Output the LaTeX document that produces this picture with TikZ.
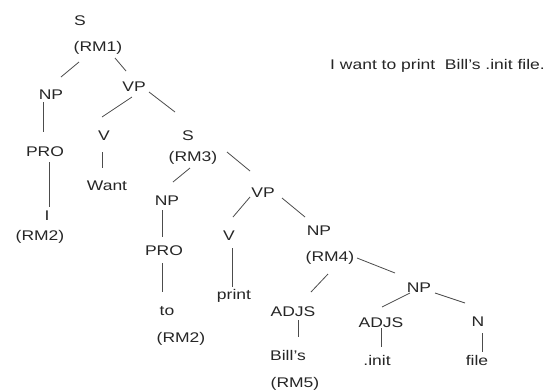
\documentclass[tikz,border=0pt]{standalone}
\usepackage{fontspec}
\setmainfont{Liberation Sans}[FakeStretch=1.25]
\usetikzlibrary{calc}
\definecolor{ink}{gray}{0.15}
\definecolor{edge}{gray}{0.3}
\tikzset{
  lbl/.style={anchor=base, inner sep=0pt, text=ink, font=\fontsize{14}{16}\selectfont},
  branch/.style={draw=edge, line width=0.8pt},
}
\begin{document}
\begin{tikzpicture}[x=1pt, y=-1pt]
\useasboundingbox[fill=white] (0,0) rectangle (546,389);

% tree labels (placed on their baselines)
\node[lbl] (s1)    at (80,25)   {S};
\node[lbl] (rm1)   at (98,51)   {(RM1)};
\node[lbl] (np1)   at (51,99)   {NP};
\node[lbl] (vp1)   at (134,91)  {VP};
\node[lbl] (pro1)  at (45,156)  {PRO};
\node[lbl] (v1)    at (104,140) {V};
\node[lbl] (want)  at (107,190) {Want};
\node[lbl] (s2)    at (188,140) {S};
\node[lbl] (rm3)   at (193,161) {(RM3)};
\node[lbl] (i)     at (47,220)  {I};
\node[lbl] (rm2a)  at (40,240)  {(RM2)};
\node[lbl] (np2)   at (167,205) {NP};
\node[lbl] (pro2)  at (164,255) {PRO};
\node[lbl] (to)    at (167,315) {to};
\node[lbl] (rm2b)  at (181,342) {(RM2)};
\node[lbl] (vp2)   at (263,197) {VP};
\node[lbl] (v2)    at (229,240) {V};
\node[lbl] (print) at (234,299) {print};
\node[lbl] (np3)   at (319,235) {NP};
\node[lbl] (rm4)   at (330,261) {(RM4)};
\node[lbl] (adjs1) at (293,316) {ADJS};
\node[lbl] (bills) at (288,360) {Bill's};
\node[lbl] (rm5)   at (295,387) {(RM5)};
\node[lbl] (np4)   at (419,292) {NP};
\node[lbl] (adjs2) at (381,327) {ADJS};
\node[lbl] (n)     at (478,326) {N};
\node[lbl] (init)  at (377,365) {.init};
\node[lbl] (file)  at (477,365) {file};

% the sentence being parsed
\node[lbl, anchor=base west] (sent) at (330,69) {I want to print~ Bill's .init file.};

% branches
\draw[branch] ($(rm1.base)+(-19,11)$)  -- ($(np1.base)+(10,-22)$);
\draw[branch] ($(rm1.base)+(17,7)$)    -- ($(vp1.base)+(-8,-20)$);
\draw[branch] ($(np1.base)+(-8,3)$)    -- ($(pro1.base)+(-2,-24)$);
\draw[branch] ($(vp1.base)+(-2,6)$)    -- ($(v1.base)+(-2,-23)$);
\draw[branch] ($(vp1.base)+(15,1)$)    -- ($(s2.base)+(-13,-28)$);
\draw[branch] ($(v1.base)+(-2,12)$)    -- ($(want.base)+(-5,-22)$);
\draw[branch] ($(pro1.base)+(4,6)$)    -- ($(i.base)+(2,-13)$);
\draw[branch] ($(rm3.base)+(-3,7)$)    -- ($(np2.base)+(6,-23)$);
\draw[branch] ($(rm3.base)+(34,-9)$)   -- ($(vp2.base)+(-13,-26)$);
\draw[branch] ($(np2.base)+(-5,5)$)    -- ($(pro2.base)+(-2,-18)$);
\draw[branch] ($(pro2.base)+(-2,8)$)   -- ($(to.base)+(-5,-23)$);
\draw[branch] ($(vp2.base)+(-13,0)$)   -- ($(v2.base)+(4,-23)$);
\draw[branch] ($(vp2.base)+(19,1)$)    -- ($(np3.base)+(-14,-18)$);
\draw[branch] ($(v2.base)+(3,8)$)      -- ($(print.base)+(-2,-12)$);
\draw[branch] ($(rm4.base)+(-2,13)$)   -- ($(adjs1.base)+(18,-24)$);
\draw[branch] ($(rm4.base)+(27,-3)$)   -- ($(np4.base)+(-24,-19)$);
\draw[branch] ($(adjs1.base)+(5,4)$)   -- ($(bills.base)+(10,-23)$);
\draw[branch] ($(np4.base)+(-9,1)$)    -- ($(adjs2.base)+(1,-20)$);
\draw[branch] ($(np4.base)+(16,1)$)    -- ($(n.base)+(-13,-23)$);
\draw[branch] ($(adjs2.base)+(0,1)$)   -- ($(init.base)+(4,-18)$);
\draw[branch] ($(n.base)+(4,7)$)       -- ($(file.base)+(5,-13)$);
\end{tikzpicture}
\end{document}
